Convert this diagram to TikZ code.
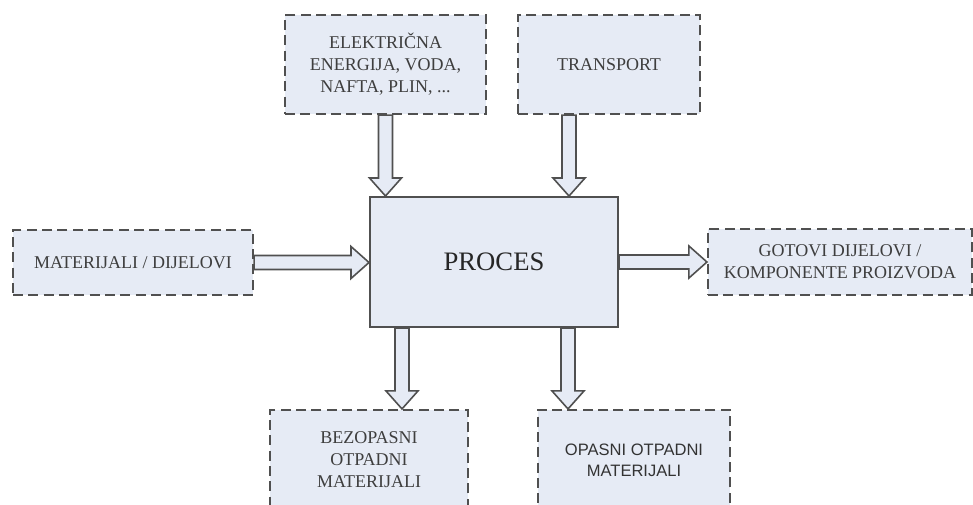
\documentclass[tikz,border=0pt]{standalone}
\usepackage{fontspec}
\setmainfont{Liberation Serif}
\newfontfamily\arialfont{Liberation Sans}
\usepackage{tikz}
\usetikzlibrary{positioning, calc}

\definecolor{boxfill}{RGB}{230,235,245}
\definecolor{boxline}{RGB}{80,80,80}
\definecolor{boxtext}{RGB}{62,62,62}

\begin{document}
\begin{tikzpicture}[x=0.75pt,y=-0.75pt]
	\def\shaft{5.25pt}
	\def\head{12pt}
	\def\headlen{13.5pt}
	\tikzstyle{d-node}=[draw=boxline,fill=boxfill,dash pattern=on 7.5pt off 4pt,line width=1.6pt,text=boxtext,font=\fontsize{13.5}{16.5}\selectfont,align=center,inner sep=0pt]
	\tikzstyle{p-node}=[draw=boxline,fill=boxfill,line width=1.5pt,text=black!85,font=\fontsize{20}{24}\selectfont,inner sep=0pt,minimum width=186pt,minimum height=97.5pt]
	\tikzstyle{flow}=[draw=boxline,fill=boxfill,line width=1.2pt,line join=miter]
	% hollow block arrow from #1 to #2
	\def\flowarrow#1#2{
		\coordinate (fa) at (#1);
		\coordinate (fb) at (#2);
		\coordinate (fn) at ($(fb)!\headlen!(fa)$);
		\draw[flow] ($(fa)!\shaft!90:(fb)$) -- ($(fn)!\shaft!90:(fb)$) -- ($(fn)!\head!90:(fb)$) -- (fb)
			-- ($(fn)!\head!-90:(fb)$) -- ($(fn)!\shaft!-90:(fb)$) -- ($(fa)!\shaft!-90:(fb)$) -- cycle;
	}

	\useasboundingbox (0,0) rectangle (973,504);
	\clip (0,0) rectangle (973,504);

	% process
	\node[p-node]	(proces)	at (494,262)	{PROCES};

	% inputs
	\node[d-node,minimum width=150.75pt,minimum height=74.25pt]	(energija)	at (385.5,64.5)	{ELEKTRIČNA\\ENERGIJA, VODA,\\NAFTA, PLIN, ...};
	\node[d-node,minimum width=136.5pt,minimum height=74.25pt]	(transport)	at (609,64.5)	{TRANSPORT};
	\node[d-node,minimum width=180pt,minimum height=48.75pt]	(materijali)	at (133,262.5)	{MATERIJALI / DIJELOVI};

	% outputs
	\node[d-node,minimum width=198pt,minimum height=49.5pt]	(gotovi)	at (840,262)	{GOTOVI DIJELOVI /\\KOMPONENTE PROIZVODA};
	\node[d-node,minimum width=148.5pt,minimum height=75pt]	(bezopasni)	at (369,460)	{BEZOPASNI\\OTPADNI\\MATERIJALI};
	\node[d-node,minimum width=144pt,minimum height=75pt,font=\arialfont\fontsize{12.4}{15.75}\selectfont,text=black!80]	(opasni)	at (634,460)	{OPASNI OTPADNI\\MATERIJALI};

	% flows
	\coordinate (t-out) at ($(transport.south)+(-40,0)$);
	\coordinate (b-in) at ($(proces.south)+(-92,0)$);
	\coordinate (o-in) at ($(proces.south)+(74,0)$);
	\flowarrow{energija.south}{energija.south |- proces.north}
	\flowarrow{t-out}{t-out |- proces.north}
	\flowarrow{materijali.east}{materijali.east -| proces.west}
	\flowarrow{proces.east}{proces.east -| gotovi.west}
	\flowarrow{b-in}{b-in |- bezopasni.north}
	\flowarrow{o-in}{o-in |- opasni.north}
\end{tikzpicture}
\end{document}
